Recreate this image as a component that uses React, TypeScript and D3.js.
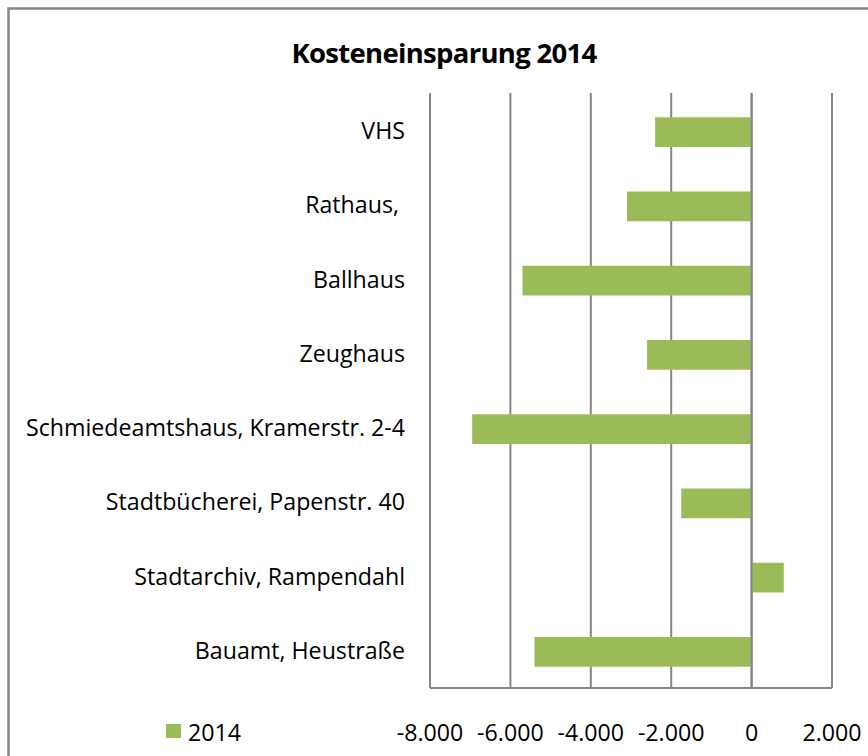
import React, { useEffect, useRef } from 'react';
import * as d3 from 'd3';

const categories = [
  'VHS',
  'Rathaus, ',
  'Ballhaus',
  'Zeughaus',
  'Schmiedeamtshaus, Kramerstr. 2-4',
  'Stadtbücherei, Papenstr. 40',
  'Stadtarchiv, Rampendahl',
  'Bauamt, Heustraße',
];
const values2014 = [-2400, -3100, -5700, -2600, -6950, -1750, 800, -5400];
const xTicks = [-8000, -6000, -4000, -2000, 0, 2000];
const seriesName = '2014';
const title = 'Kosteneinsparung 2014';

const App = () => {
  const ref = useRef<SVGSVGElement>(null);

  useEffect(() => {
    const width = 868;
    const height = 756;
    const margin = { top: 94, right: 36, bottom: 68, left: 430 };
    const font = 'Open Sans, sans-serif';
    const grid = '#868686';
    const fs = 23.2;

    const svg = d3.select(ref.current);
    svg.selectAll('*').remove();

    // chart frame (right and bottom run off the page)
    svg.append('rect')
      .attr('x', 8.5).attr('y', 8.5)
      .attr('width', width + 10).attr('height', height + 10)
      .attr('fill', '#fff')
      .attr('stroke', grid)
      .attr('stroke-width', 2.5);

    svg.append('text')
      .attr('x', 444).attr('y', 63)
      .attr('text-anchor', 'middle')
      .attr('font-family', font)
      .attr('font-weight', 'bold')
      .attr('font-size', 27.5)
      .attr('letter-spacing', -0.7)
      .text(title);

    const x = d3.scaleLinear()
      .domain([-8000, 2000])
      .range([margin.left, width - margin.right]);

    const y = d3.scaleBand()
      .domain(categories)
      .range([margin.top, height - margin.bottom])
      .paddingInner(0.6)
      .paddingOuter(0.3);

    // gridlines
    svg.append('g')
      .selectAll('line')
      .data(xTicks)
      .join('line')
        .attr('x1', d => x(d)).attr('x2', d => x(d))
        .attr('y1', margin.top - 1).attr('y2', height - margin.bottom)
        .attr('stroke', grid)
        .attr('stroke-width', 2);

    svg.append('line')
      .attr('x1', x(-8000)).attr('x2', x(2000))
      .attr('y1', height - margin.bottom).attr('y2', height - margin.bottom)
      .attr('stroke', grid)
      .attr('stroke-width', 2);

    svg.append('g')
      .attr('fill', '#9BBB59')
      .selectAll('rect')
      .data(values2014)
      .join('rect')
        .attr('x', d => x(Math.min(0, d)))
        .attr('y', (d, i) => (y(categories[i]) as number) + 1)
        .attr('width', d => Math.abs(x(d) - x(0)))
        .attr('height', y.bandwidth());

    // zero line on top of the bars
    svg.append('line')
      .attr('x1', x(0)).attr('x2', x(0))
      .attr('y1', margin.top - 1).attr('y2', height - margin.bottom)
      .attr('stroke', grid)
      .attr('stroke-width', 2);

    // category labels
    svg.append('g')
      .selectAll('text')
      .data(categories)
      .join('text')
        .attr('x', 405)
        .attr('y', d => (y(d) as number) + y.bandwidth() / 2)
        .attr('dy', '0.35em')
        .attr('text-anchor', 'end')
        .attr('font-family', font)
        .attr('font-size', fs)
        .attr('fill', '#000')
        .attr('xml:space', 'preserve')
        .text(d => d);

    const fmt = (v: number) => d3.format(',')(v).replace(/,/g, '.').replace('−', '-');

    svg.append('g')
      .selectAll('text')
      .data(xTicks)
      .join('text')
        .attr('x', d => x(d))
        .attr('y', 741)
        .attr('text-anchor', 'middle')
        .attr('font-family', font)
        .attr('font-size', fs)
        .text(d => fmt(d));

    // legend
    svg.append('rect')
      .attr('x', 166).attr('y', 724)
      .attr('width', 15).attr('height', 14)
      .attr('fill', '#9BBB59');
    svg.append('text')
      .attr('x', 188).attr('y', 741)
      .attr('font-family', font)
      .attr('font-size', fs)
      .text(seriesName);
  }, []);

  return (
    <svg ref={ref} width={868} height={756}
      style={{ position: 'absolute', left: 0, top: 0, display: 'block' }} />
  );
};

export default App;
